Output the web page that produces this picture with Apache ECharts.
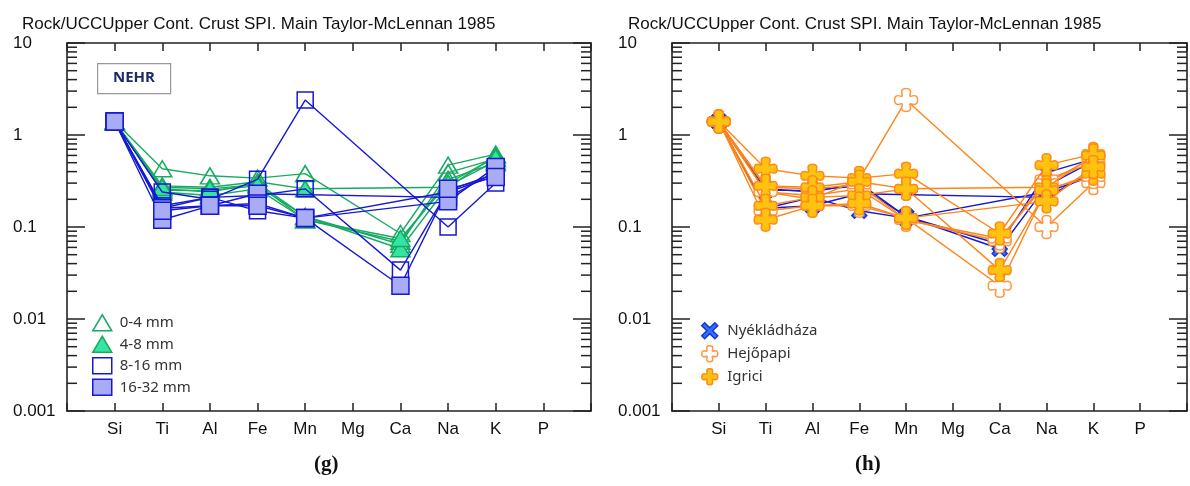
<!DOCTYPE html>
<html>
<head>
<meta charset="utf-8">
<script src="https://cdn.jsdelivr.net/npm/echarts@6/dist/echarts.min.js"></script>
<style>
  html, body { margin: 0; padding: 0; background: #fff; }
  #chart { width: 1190px; height: 486px; }
</style>
</head>
<body>
<div id="chart"></div>
<script>
// elements along the x axis (Mg and P have no data)
const ELEMENTS = ['Si', 'Ti', 'Al', 'Fe', 'Mn', 'Mg', 'Ca', 'Na', 'K', 'P'];
const Y_LABELS = { '0.001': '0.001', '0.01': '0.01', '0.1': '0.1', '1': '1', '10': '10' };
const MINOR_TICKS = [
    0.002, 0.003, 0.004, 0.005, 0.006, 0.007, 0.008, 0.009,
    0.02, 0.03, 0.04, 0.05, 0.06, 0.07, 0.08, 0.09,
    0.2, 0.3, 0.4, 0.5, 0.6, 0.7, 0.8, 0.9,
    2, 3, 4, 5, 6, 7, 8, 9
];

// rock/UCC ratios per sample, order = ELEMENTS
const S1  = [1.4, 0.43, 0.36, 0.34, 0.38, null, 0.085, 0.47, 0.62, null];
const S2  = [1.4, 0.26, 0.24, 0.30, 0.13, null, 0.065, 0.39, 0.55, null];
const S3  = [1.4, 0.24, 0.22, 0.26, 0.12, null, 0.07, 0.33, 0.50, null];
const S4  = [1.4, 0.28, 0.27, 0.31, 0.26, null, null, 0.27, 0.60, null];
const S5  = [1.4, 0.25, 0.25, 0.28, 0.13, null, 0.058, 0.28, 0.52, null];
const S6  = [1.4, 0.27, 0.26, 0.29, 0.12, null, 0.075, 0.30, 0.57, null];
const S7  = [1.4, 0.24, 0.20, 0.33, 2.4, null, null, 0.10, 0.30, null];
const S8  = [1.4, 0.17, 0.21, 0.22, 0.26, null, 0.034, 0.25, 0.38, null];
const S9  = [1.4, 0.16, 0.21, 0.15, 0.125, null, null, 0.24, 0.36, null];
const S10 = [1.4, 0.16, 0.17, 0.23, null, null, null, 0.21, 0.40, null];
const S11 = [1.4, 0.12, 0.17, 0.18, 0.125, null, null, 0.19, 0.45, null];
const S12 = [1.4, 0.15, 0.17, 0.17, 0.125, null, 0.023, 0.26, 0.35, null];
const SAMPLES = [S1, S2, S3, S4, S5, S6, S7, S8, S9, S10, S11, S12];

// grain size class and site of each sample
const SAMPLE_SIZE = ['0-4 mm', '0-4 mm', '0-4 mm', '4-8 mm', '4-8 mm', '4-8 mm',
    '8-16 mm', '8-16 mm', '8-16 mm', '16-32 mm', '16-32 mm', '16-32 mm'];
const SAMPLE_SITE = ['Igrici', 'Nyékládháza', 'Hejőpapi', 'Igrici', 'Nyékládháza', 'Hejőpapi',
    'Hejőpapi', 'Igrici', 'Nyékládháza', 'Nyékládháza', 'Igrici', 'Hejőpapi'];

const SIZES = ['0-4 mm', '4-8 mm', '8-16 mm', '16-32 mm'];
const SITES = ['Nyékládháza', 'Hejőpapi', 'Igrici'];

const TITLE = 'Rock/UCCUpper Cont. Crust SPI. Main Taylor-McLennan 1985';

const GREEN = '#17ab62';
const BLUE = '#1717d6';
const ORANGE = '#ff8419';

const PLUS = 'path://M50,0 C66,0 74,6 66,30 C66,33 67,34 70,34 C94,26 100,34 100,50 C100,66 94,74 70,66 C67,66 66,67 66,70 C74,94 66,100 50,100 C34,100 26,94 34,70 C34,67 33,66 30,66 C6,74 0,66 0,50 C0,34 6,26 30,34 C33,34 34,33 34,30 C26,6 34,0 50,0 Z';
const CROSS = 'path://M18,0 L50,32 L82,0 L100,18 L68,50 L100,82 L82,100 L50,68 L18,100 L0,82 L32,50 L0,18 Z';

// marker style of each group
const SIZE_STYLE = {
    '0-4 mm':   { symbol: 'triangle', size: [19, 16], fill: 'rgba(255,255,255,0)', border: GREEN, line: GREEN },
    '4-8 mm':   { symbol: 'triangle', size: [19, 16], fill: '#35e3a3', border: GREEN, line: GREEN },
    '8-16 mm':  { symbol: 'rect', size: 16, fill: 'rgba(255,255,255,0)', border: BLUE, line: BLUE },
    '16-32 mm': { symbol: 'rect', size: 17, fill: '#a8acf5', border: BLUE, line: BLUE }
};
const SITE_STYLE = {
    'Nyékládháza': { symbol: CROSS, size: 15, fill: '#2f73f5', border: '#1836d8', line: BLUE },
    'Hejőpapi':    { symbol: PLUS, size: 23, fill: '#ffffff', border: '#ff9640', line: ORANGE },
    'Igrici':      { symbol: PLUS, size: 23, fill: '#ffc20f', border: '#ff8a1a', line: ORANGE }
};

const chart = echarts.init(document.getElementById('chart'));

function lineSeries(vals, name, st, axis, z) {
    const data = [];
    vals.forEach((v, i) => { if (v !== null) data.push([i + 1, v]); });
    return {
        type: 'line',
        name: name,
        xAxisIndex: axis * 2,
        yAxisIndex: axis * 2,
        data: data,
        symbol: st.symbol,
        symbolSize: st.size,
        showAllSymbol: true,
        z: z,
        lineStyle: { color: st.line, width: 1.4 },
        itemStyle: { color: st.fill, borderColor: st.border, borderWidth: 1.5 },
        emphasis: { disabled: true }
    };
}

// log minor ticks (2..9 x 10^k) on both sides of a grid
function minorTicks(axis) {
    return {
        type: 'custom',
        xAxisIndex: axis * 2,
        yAxisIndex: axis * 2,
        data: MINOR_TICKS.map(v => [0, v]),
        z: 1,
        silent: true,
        renderItem: function (params, api) {
            const v = api.value(1);
            const l = api.coord([0, v]);
            const r = api.coord([11, v]);
            return {
                type: 'group',
                children: [
                    { type: 'line', shape: { x1: l[0], y1: l[1], x2: l[0] + 10, y2: l[1] }, style: { stroke: '#222', lineWidth: 1.5 } },
                    { type: 'line', shape: { x1: r[0], y1: r[1], x2: r[0] - 10, y2: r[1] }, style: { stroke: '#222', lineWidth: 1.5 } }
                ]
            };
        }
    };
}

const axisLine = { show: true, onZero: false, lineStyle: { color: '#222', width: 1.6 } };
const labelFont = { fontFamily: 'Liberation Sans', fontSize: 17, color: '#111' };

function xAxes(g) {
    const base = {
        type: 'value', gridIndex: g, min: 0, max: 11, interval: 1,
        axisLine: axisLine, splitLine: { show: false },
        axisTick: { show: true, inside: true, length: 8, lineStyle: { color: '#222', width: 1.5 } }
    };
    return [
        Object.assign({}, base, {
            position: 'bottom',
            axisLabel: Object.assign({ margin: 10, formatter: v => ELEMENTS[v - 1] || '' }, labelFont)
        }),
        Object.assign({}, base, { position: 'top', axisLabel: { show: false } })
    ];
}

function yAxes(g) {
    const base = {
        type: 'log', logBase: 10, gridIndex: g, min: 0.001, max: 10,
        axisLine: axisLine, splitLine: { show: false },
        axisTick: { show: true, inside: true, length: 18, lineStyle: { color: '#222', width: 1.5 } }
    };
    return [
        Object.assign({}, base, {
            position: 'left',
            axisLabel: Object.assign({ margin: 54, align: 'left', formatter: v => Y_LABELS[String(+v.toPrecision(3))] || '' }, labelFont)
        }),
        Object.assign({}, base, { position: 'right', axisLabel: { show: false } })
    ];
}

const series = [minorTicks(0), minorTicks(1)];

// (g) by grain size
SIZES.forEach((size, k) => {
    SAMPLES.forEach((vals, i) => {
        if (SAMPLE_SIZE[i] === size) series.push(lineSeries(vals, size, SIZE_STYLE[size], 0, 2 + k));
    });
});
// (h) by site
SITES.forEach((site, k) => {
    SAMPLES.forEach((vals, i) => {
        if (SAMPLE_SITE[i] === site) series.push(lineSeries(vals, site, SITE_STYLE[site], 1, 2 + k));
    });
});

const legendText = { fontFamily: 'Noto Sans', fontSize: 15, color: '#333', lineHeight: 16, padding: [0, 0, 0, 3] };
const titleText = { fontFamily: 'Liberation Sans', fontSize: 17, fontWeight: 'normal', color: '#111' };

const option = {
    animation: false,
    backgroundColor: '#fff',
    title: [
        { text: TITLE, left: 22, top: 16, padding: 0, textStyle: titleText },
        { text: TITLE, left: 628, top: 16, padding: 0, textStyle: titleText }
    ],
    grid: [
        { left: 67, top: 43, width: 524, height: 368 },
        { left: 672, top: 43, width: 524, height: 368 }
    ],
    xAxis: xAxes(0).concat(xAxes(1)),
    yAxis: yAxes(0).concat(yAxes(1)),
    legend: [
        {
            orient: 'vertical', left: 92, top: 314, padding: 0, itemWidth: 19, itemHeight: 16, itemGap: 4,
            textStyle: legendText, selectedMode: false,
            data: SIZES.map(s => ({
                name: s, icon: SIZE_STYLE[s].symbol,
                itemStyle: { color: SIZE_STYLE[s].fill, borderColor: SIZE_STYLE[s].border, borderWidth: 1.5 }
            }))
        },
        {
            orient: 'vertical', left: 701, top: 322, padding: 0, itemWidth: 19, itemHeight: 16, itemGap: 5.5,
            textStyle: legendText, selectedMode: false,
            data: SITES.map(s => ({
                name: s, icon: SITE_STYLE[s].symbol,
                itemStyle: { color: SITE_STYLE[s].fill, borderColor: SITE_STYLE[s].border, borderWidth: 1.5 }
            }))
        }
    ],
    graphic: [
        { type: 'rect', left: 97, top: 63, shape: { width: 73, height: 30 }, style: { fill: '#fff', stroke: '#999', lineWidth: 1.2 }, z: 10 },
        { type: 'text', left: 113, top: 70, style: { text: 'NEHR', fontFamily: 'Open Sans', fontWeight: 'bold', fontSize: 15, fill: '#1c2b66' }, z: 11 },
        { type: 'text', left: 314, top: 454, style: { text: '(g)', fontFamily: 'Liberation Serif', fontWeight: 'bold', fontSize: 21, fill: '#111' } },
        { type: 'text', left: 855, top: 454, style: { text: '(h)', fontFamily: 'Liberation Serif', fontWeight: 'bold', fontSize: 21, fill: '#111' } }
    ],
    series: series
};

chart.setOption(option);
</script>
</body>
</html>
